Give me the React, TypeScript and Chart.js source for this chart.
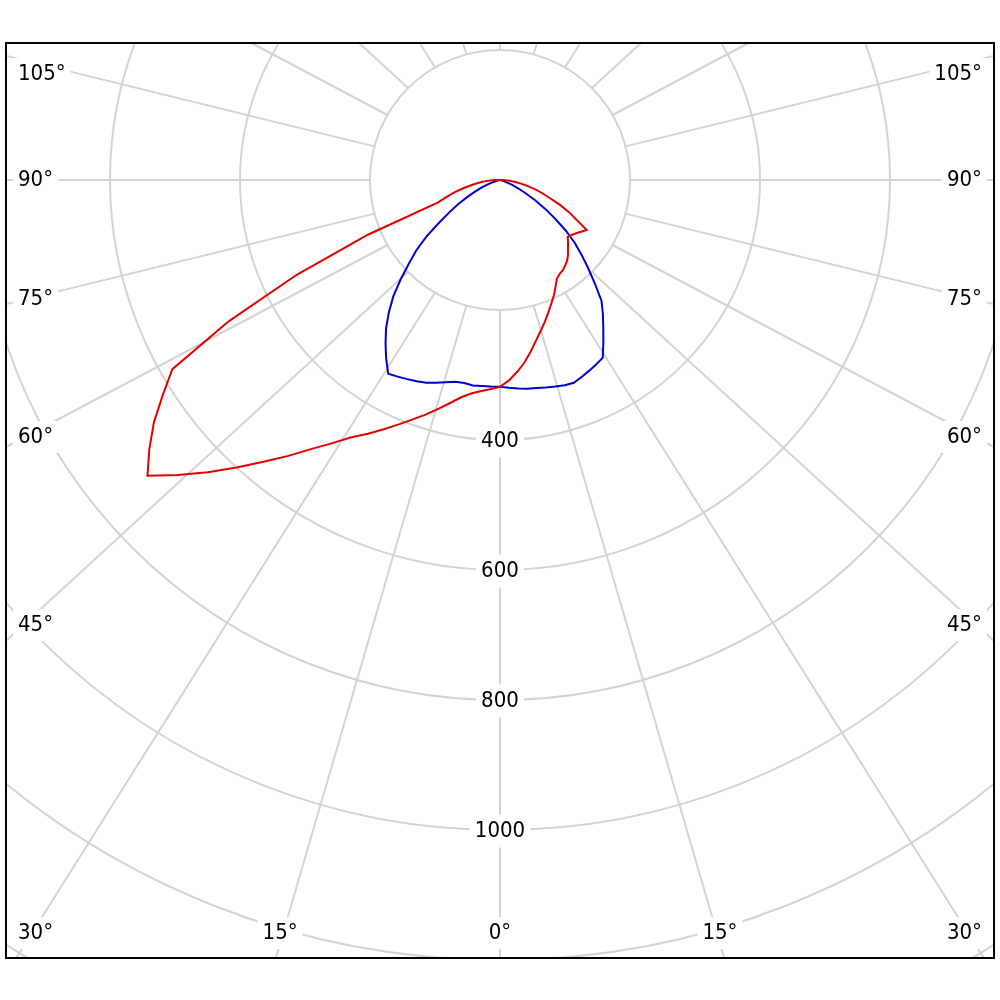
import React, { useEffect, useRef } from "react";
import { Chart, registerables } from "chart.js";

// Register Chart.js components
Chart.register(...registerables);

// gamma angles (degrees from nadir) of the tabulated intensities
const gammaSteps = [
  0, 2.5, 5, 7.5, 10, 12.5, 15, 17.5, 20, 22.5, 25, 27.5, 30, 32.5, 35, 37.5,
  40, 42.5, 45, 47.5, 50, 52.5, 55, 57.5, 60, 62.5, 65, 67.5, 70, 72.5, 75,
  77.5, 80, 82.5, 85, 87.5, 90, 92.5, 95,
];

// red curve, left and right half (cd)
const redLeft = [
  318, 322, 326, 331, 339, 351, 364, 378, 392, 407, 423, 440, 457, 480, 505,
  535, 566, 600, 636, 672, 708, 680, 650, 615, 582, 470, 345, 220, 102, 86, 72,
  57, 44, 33, 24, 15, 8, 3, 0,
];
const redRight = [
  318, 309, 297, 284, 269, 254, 241, 229, 217, 206, 196, 185, 175, 171, 169,
  165, 161, 155, 148, 142, 136, 139, 143, 148, 154, 133, 117, 100, 82, 69, 57,
  45, 34, 24, 15, 8, 3, 0, 0,
];

// blue curve, left and right half (cd)
const blueLeft = [
  318, 318, 318, 319, 317, 318, 322, 327, 332, 335, 338, 341, 344, 326, 307,
  288, 266, 243, 216, 190, 168, 142, 114, 92, 74, 57, 43, 31, 20, 12, 6, 2, 0,
  0, 0, 0, 0, 0, 0,
];
const blueRight = [
  318, 320, 322, 324, 325, 327, 329, 331, 332, 328, 324, 320, 316, 296, 277,
  260, 243, 216, 192, 170, 150, 127, 103, 82, 63, 45, 32, 21, 13, 7, 3, 0, 0, 0,
  0, 0, 0, 0, 0,
];

const radialTicks = [400, 600, 800, 1000];
const angleTicks = [15, 30, 45, 60, 75, 90, 105];

const STEP = 2.5;
const SPOKE = 15;
const R_MAX = 1400;
const SIZE = 1820;
const GRID = "#d3d3d3";
const FONT = "22px 'DejaVu Sans Condensed', 'DejaVu Sans', sans-serif";

const labels = Array.from({ length: 360 / STEP }, (_, i) => i * STEP);

// left half runs clockwise from nadir, right half comes back from the top
const toRing = (left: number[], right: number[]) =>
  labels.map((g) => {
    const side = g <= 180 ? left : right;
    const k = gammaSteps.indexOf(g <= 180 ? g : 360 - g);
    return k >= 0 ? side[k] : 0;
  });

const boxText = (
  ctx: CanvasRenderingContext2D,
  text: string,
  x: number,
  y: number,
  align: CanvasTextAlign,
  h: number
) => {
  const w = ctx.measureText(text).width;
  const x0 = align === "left" ? x : align === "right" ? x - w : x - w / 2;
  ctx.fillStyle = "#fff";
  ctx.fillRect(x0 - 5, y - h / 2, w + 10, h);
  ctx.fillStyle = "#000";
  ctx.textAlign = align;
  ctx.textBaseline = "middle";
  ctx.fillText(text, x, y);
};

const polarDecor = {
  id: "polarDecor",
  beforeDatasetsDraw(chart: any) {
    const r = chart.scales.r;
    const ctx: CanvasRenderingContext2D = chart.ctx;
    const inner = r.getDistanceFromCenterForValue(200);
    const far = r.getDistanceFromCenterForValue(R_MAX) * 1.3;
    ctx.save();
    ctx.strokeStyle = GRID;
    ctx.lineWidth = 2;
    for (let a = 0; a < 360; a += SPOKE) {
      const p = r.getPointPositionForValue(a / STEP, 200);
      let dx = ((p.x - r.xCenter) / inner) * 1.09;
      let dy = (p.y - r.yCenter) / inner;
      const n = Math.hypot(dx, dy);
      ctx.beginPath();
      ctx.moveTo(p.x, p.y);
      ctx.lineTo(p.x + (dx / n) * far, p.y + (dy / n) * far);
      ctx.stroke();
    }
    ctx.restore();
  },
  afterDatasetsDraw(chart: any) {
    const r = chart.scales.r;
    const ctx: CanvasRenderingContext2D = chart.ctx;
    const cx = r.xCenter;
    const cy = r.yCenter;
    ctx.save();
    ctx.font = FONT;
    radialTicks.forEach((v) => {
      const p = r.getPointPositionForValue(0, v);
      boxText(ctx, String(v), p.x, p.y + 1, "center", 33);
    });
    // gamma labels along the frame
    const sideX = 463;
    const bottomY = 753;
    const topY = -106;
    boxText(ctx, "0°", cx, cy + bottomY, "center", 32);
    [-1, 1].forEach((s) => {
      angleTicks.forEach((g) => {
        const t = `${g}°`;
        const rad = (g * Math.PI) / 180;
        const dy = Math.cos(rad);
        const dx = 1.04 * Math.sin(rad);
        const tSide = sideX / dx;
        const tBottom = dy > 0 ? bottomY / dy : Infinity;
        if (tSide <= tBottom) {
          const y = Math.max(topY, Math.min(bottomY, dy * tSide));
          boxText(ctx, t, cx + s * 482, cy + y, s < 0 ? "left" : "right", 32);
        } else {
          const w = ctx.measureText(t).width;
          let x = ((1.09 * Math.sin(rad)) / dy) * bottomY;
          x = Math.min(x, 482 - w / 2);
          boxText(ctx, t, cx + s * x, cy + bottomY, "center", 32);
        }
      });
    });
    ctx.restore();
  },
};

const PolarIntensityChart: React.FC = () => {
  const chartRef = useRef<HTMLCanvasElement>(null);
  const chartInstance = useRef<Chart | null>(null);

  useEffect(() => {
    if (chartRef.current) {
      if (chartInstance.current) {
        chartInstance.current.destroy();
      }
      const ctx = chartRef.current.getContext("2d");
      if (ctx) {
        chartInstance.current = new Chart(ctx, {
          type: "radar",
          data: {
            labels,
            datasets: [
              {
                label: "C0-C180",
                data: toRing(redLeft, redRight),
                borderColor: "#e00000",
                borderWidth: 2,
                fill: false,
                pointRadius: 0,
              },
              {
                label: "C90-C270",
                data: toRing(blueLeft, blueRight),
                borderColor: "#0000d0",
                borderWidth: 2,
                fill: false,
                pointRadius: 0,
              },
            ],
          },
          options: {
            responsive: false,
            animation: false,
            layout: { padding: 0 },
            plugins: {
              legend: { display: false },
              tooltip: { enabled: false },
            },
            scales: {
              r: {
                min: 0,
                max: R_MAX,
                startAngle: 180,
                ticks: { display: false, stepSize: 200 },
                grid: { circular: true, color: GRID, lineWidth: 2 },
                angleLines: { display: false },
                pointLabels: { display: false },
              },
            },
          },
          plugins: [polarDecor],
        });
      }
    }

    return () => {
      if (chartInstance.current) {
        chartInstance.current.destroy();
        chartInstance.current = null;
      }
    };
  }, []);

  return (
    <div
      style={{
        position: "absolute",
        left: 0,
        top: 0,
        width: 1000,
        height: 1000,
        background: "#fff",
      }}
    >
      <div
        style={{
          position: "absolute",
          left: 5,
          top: 42,
          width: 990,
          height: 917,
          boxSizing: "border-box",
          border: "2px solid #000",
          overflow: "hidden",
        }}
      >
        <canvas
          ref={chartRef}
          width={SIZE}
          height={SIZE}
          style={{ position: "absolute", left: -417, top: -774 }}
        />
      </div>
    </div>
  );
};

export default function App() {
  return <PolarIntensityChart />;
}
